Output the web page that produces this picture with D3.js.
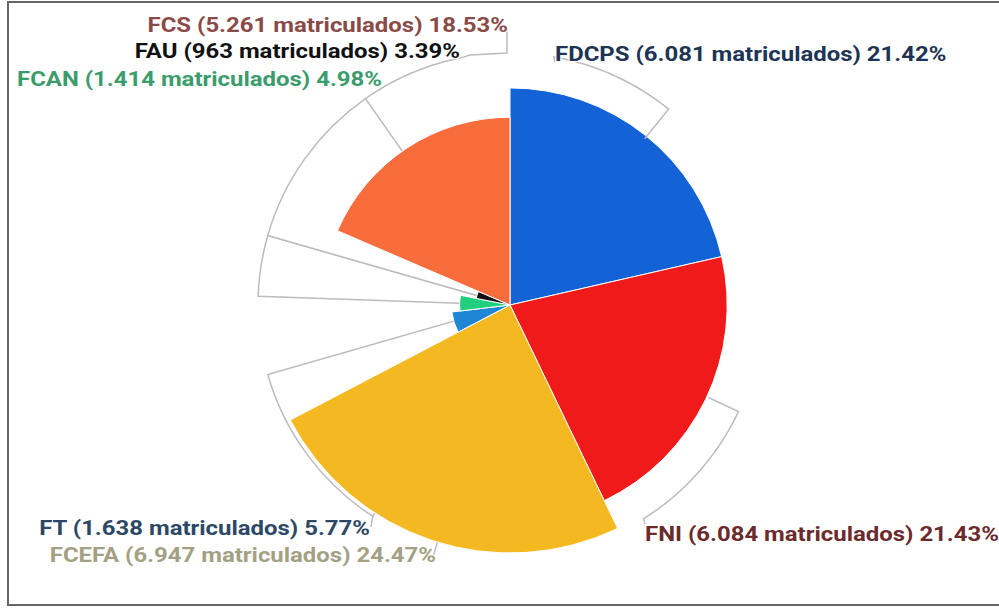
<!DOCTYPE html>
<html>
<head>
<meta charset="utf-8">
<script src="https://cdn.jsdelivr.net/npm/d3@7"></script>
<style>
  body { margin: 0; background: #fff; }
  svg { display: block; }
  text { font-family: Roboto, "Open Sans", sans-serif; font-weight: 700; }
</style>
</head>
<body>
<div id="chart"></div>
<script>
// matriculados por facultad, en el orden del gráfico (sentido horario desde las 12)
const facultades = ["FDCPS", "FNI", "FCEFA", "FT", "FCAN", "FAU", "FCS"];
const matriculados = [6081, 6084, 6947, 1638, 1414, 963, 5261];
const sliceColors = ["#1463d6", "#f11a1a", "#f4b821", "#1f86d6", "#22cf7e", "#111111", "#f96c3c"];
const labelColors = ["#1d3454", "#6b2a2c", "#a3a184", "#2d4866", "#3b9c6c", "#111111", "#8a4a47"];

const width = 999, height = 613;
const cx = 510, cy = 305;

const data = facultades.map((f, i) => ({
    name: f, value: matriculados[i], color: sliceColors[i], label: labelColors[i]
}));
const total = d3.sum(data, d => d.value);
const es = d3.formatLocale({decimal: ",", thousands: ".", grouping: [3], currency: ["", ""]});
const fmtNum = es.format(",d");

const svg = d3.select("#chart").append("svg")
    .attr("width", width)
    .attr("height", height);

// marco
svg.append("rect")
    .attr("x", 8).attr("y", 2)
    .attr("width", width + 10).attr("height", 603)
    .attr("fill", "none")
    .attr("stroke", "#666")
    .attr("stroke-width", 2);

const g = svg.append("g").attr("transform", `translate(${cx},${cy})`);

const rScale = d3.scaleLinear()
    .domain([0, d3.max(data, d => d.value)])
    .range([0, 248]);

const pie = d3.pie().value(d => d.value).sort(null);
const arcs = pie(data);

const rad = deg => deg * Math.PI / 180;
const ghostR = 252;
const pt = (deg, r) => [r * Math.sin(rad(deg)), -r * Math.cos(rad(deg))];
const arcPts = (a0, a1, r) => {
    const step = a1 > a0 ? 1 : -1;
    return d3.range(a0, a1 + step * 0.5, step).map(a => pt(a, r));
};

// cuñas blancas de guía de las etiquetas
const ghosts = [[213, 254], [272, 286], [286, 325]];
const ghostArc = d3.arc().innerRadius(0).outerRadius(ghostR);
g.selectAll("path.ghost")
    .data(ghosts)
    .enter().append("path")
    .attr("class", "ghost")
    .attr("d", d => ghostArc({startAngle: rad(d[0]), endAngle: rad(d[1])}))
    .attr("fill", "#fff")
    .attr("stroke", "#bcbcc0")
    .attr("stroke-width", 1.5);

// porciones
const arc = d3.arc().innerRadius(0).outerRadius(d => rScale(d.data.value));
g.selectAll("path.slice")
    .data(arcs)
    .enter().append("path")
    .attr("class", "slice")
    .attr("d", arc)
    .attr("fill", d => d.data.color)
    .attr("stroke", "#fff")
    .attr("stroke-width", 1);

// líneas guía sueltas
const line = d3.line();
const leaders = [
    // FCS: arco hasta la etiqueta superior
    arcPts(325, 349, ghostR).concat([[-40, -250], [-3, -252], [-3, -274]]),
    // FDCPS
    [pt(39, 214)].concat(arcPts(39, 10, ghostR), [[45, -243]]),
    // FNI
    [pt(115, 219)].concat(arcPts(115, 148, ghostR), [[135, 219]]),
    [pt(213, ghostR), [-139, 222]],
    [pt(197, 248), pt(197, 262)]
];
g.selectAll("path.leader")
    .data(leaders)
    .enter().append("path")
    .attr("class", "leader")
    .attr("d", d => line(d))
    .attr("fill", "none")
    .attr("stroke", "#bcbcc0")
    .attr("stroke-width", 1.5);

// etiquetas (el texto del original está algo ensanchado)
const stretch = 1.14;
const labelPos = {
    FDCPS: {x: 555, y: 61, anchor: "start"},
    FNI:   {x: 645, y: 541, anchor: "start"},
    FCEFA: {x: 436, y: 562, anchor: "end"},
    FT:    {x: 370, y: 535, anchor: "end"},
    FCAN:  {x: 382, y: 86, anchor: "end"},
    FAU:   {x: 460, y: 58, anchor: "end"},
    FCS:   {x: 508, y: 32, anchor: "end"}
};
svg.selectAll("text.lbl")
    .data(data)
    .enter().append("text")
    .attr("class", "lbl")
    .attr("transform", d => `translate(${labelPos[d.name].x},${labelPos[d.name].y}) scale(${stretch},1)`)
    .attr("text-anchor", d => labelPos[d.name].anchor)
    .attr("font-size", 21)
    .attr("fill", d => d.label)
    .attr("stroke", "#fff")
    .attr("stroke-width", 2)
    .attr("paint-order", "stroke")
    .text(d => `${d.name} (${fmtNum(d.value)} matriculados) ${(d.value / total * 100).toFixed(2)}%`);
</script>
</body>
</html>
